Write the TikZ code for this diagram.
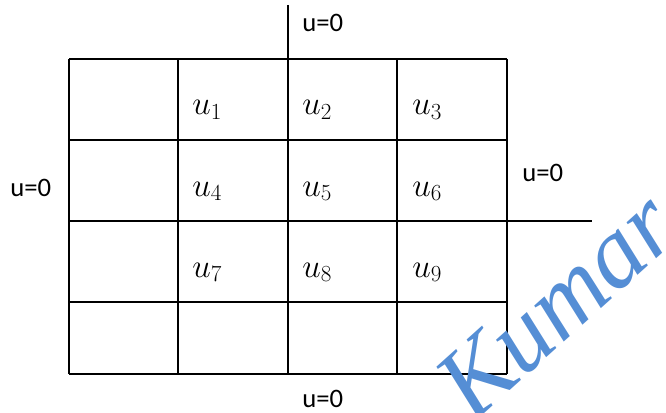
\documentclass[tikz,border=0pt]{standalone}
\usepackage{fontspec}
\setmainfont{Carlito}
\newfontfamily\wmfont{Liberation Serif}
\usetikzlibrary{positioning}
\definecolor{wmblue}{RGB}{85,142,213}

\begin{document}
\begin{tikzpicture}[x=0.75pt, y=-0.75pt, every node/.style={font=\fontsize{20}{24}\selectfont, inner sep=0pt}]
    \useasboundingbox (0,0) rectangle (666,413);
    % grid lines
    \foreach \x in {69,178,288,397,507} {
        \draw[line width=1.5pt] (\x,59) -- (\x,374);
    }
    \foreach \y in {59,140,221,302,374} {
        \draw[line width=1.5pt] (69,\y) -- (507,\y);
    }
    \coordinate (topend) at (288,5);
    \coordinate (topfoot) at (288,59);
    \coordinate (rightfoot) at (507,221);
    \coordinate (rightend) at (592,221);
    \draw[line width=1.2pt] (topend) -- (topfoot);
    \draw[line width=1.2pt] (rightfoot) -- (rightend);
    % unknowns
    \foreach \r in {0,1,2} {
        \foreach \c in {0,1,2} {
            \pgfmathtruncatemacro\k{3*\r+\c+1}
            \node[anchor=base west, font=\fontsize{23}{26}\selectfont] (u\k) at (192+110*\c, 115+81*\r) {$u_{\k}$};
        }
    }
    % boundary values
    \node[anchor=west] (bctop) at (302,23) {u=0};
    \node[anchor=west] (bcleft) at (10,188) {u=0};
    \node[anchor=west] (bcright) at (522,173) {u=0};
    \node[anchor=west] (bcbottom) at (302,399) {u=0};
    % watermark
    \node[rotate=42, text=wmblue, font=\wmfont\itshape\fontsize{76}{76}\selectfont] (wm) at (556,305) {Kumar};
\end{tikzpicture}
\end{document}
